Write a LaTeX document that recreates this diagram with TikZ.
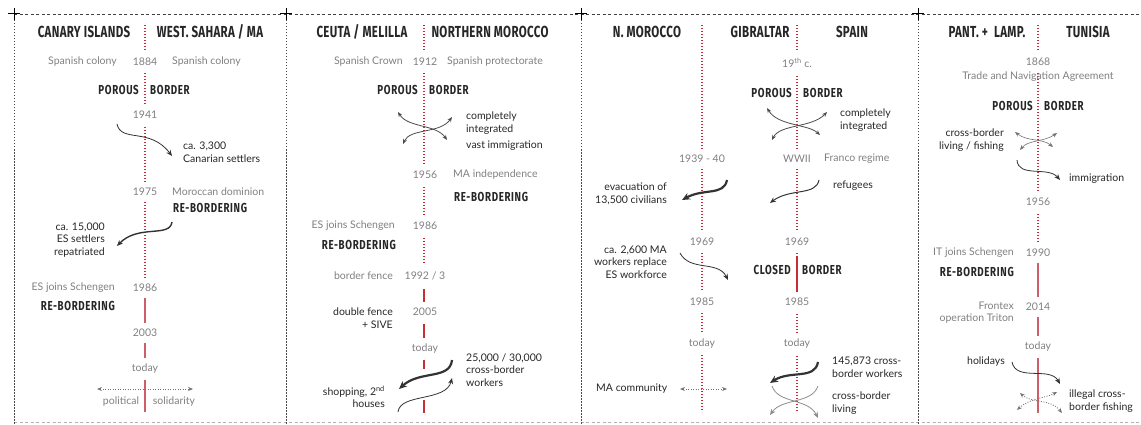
\documentclass[tikz,border=0pt]{standalone}
\usepackage{fontspec}
\setmainfont{Lato}
\newfontfamily\headfont{Fira Sans}[FakeStretch=0.72, LetterSpace=2]
\newfontfamily\tagfont{Fira Sans}[FakeStretch=0.75, LetterSpace=5]
\usetikzlibrary{arrows.meta}

\definecolor{axisred}{RGB}{200,45,55}
\definecolor{axispink}{RGB}{205,95,105}

\tikzset{
  head/.style={font=\headfont\bfseries\fontsize{16}{16}\selectfont, text=black!85, inner sep=1pt},
  tag/.style={font=\tagfont\bfseries\fontsize{13}{13}\selectfont, text=black!85, inner sep=1pt},
  year/.style={font=\fontsize{10.5}{12}\selectfont, text=black!50, fill=white, inner xsep=2pt, inner ysep=6pt},
  note/.style={font=\fontsize{10.5}{12}\selectfont, text=black!50, inner sep=1pt},
  info/.style={font=\fontsize{10.5}{12.5}\selectfont, text=black!85, inner sep=1pt},
  axisdot/.style={draw=axisred, line width=1.3pt, dash pattern=on 1.2pt off 1.8pt},
  axisline/.style={draw=axispink, line width=1.3pt},
  redbar/.style={draw=axisred, line width=2.2pt},
  flow/.style={-{Stealth[length=6pt,width=5pt]}, line width=0.8pt, black!80},
  bigflow/.style={flow, line width=2.2pt, -{Stealth[length=8pt,width=7pt]}},
  twoway/.style={{Stealth[length=5pt,width=4pt]}-{Stealth[length=5pt,width=4pt]}, line width=0.8pt, black!70},
  dotway/.style={twoway, black!55, dash pattern=on 1pt off 1.5pt},
  frame/.style={black!75, line width=0.7pt, dash pattern=on 3pt off 2.5pt},
  sideframe/.style={black!70, line width=0.7pt, dash pattern=on 1.5pt off 1.5pt}
}

\begin{document}
\begin{tikzpicture}[x=1pt,y=-1pt]
\useasboundingbox (0,0) rectangle (1141,425);

% frame
\draw[frame] (14,14) -- (1141,14);
\draw[frame, black!30] (14,422) -- (1141,422);
\draw[sideframe] (14,14) -- (14,425);
\draw[sideframe] (286,14) -- (286,425);
\draw[sideframe] (581,14) -- (581,425);
\draw[sideframe] (918,14) -- (918,425);
\draw[line width=1pt] (8,14) -- (20,14) (14,8) -- (14,20);
\draw[line width=1pt] (280,14) -- (292,14) (286,8) -- (286,20);
\draw[line width=1pt] (575,14) -- (587,14) (581,8) -- (581,20);
\draw[line width=1pt] (912,14) -- (924,14) (918,8) -- (918,20);

% axes
\draw[axisdot] (145,25) -- (145,288);
\draw[axisline] (145,288) -- (145,412);
\draw[axisdot] (424,25) -- (424,264);
\draw[axisline, axisred] (424,289) -- (424,302);
\draw[redbar] (424,324) -- (424,338);
\draw[redbar] (424,360) -- (424,369);
\draw[redbar] (424,400) -- (424,413);
\draw[axisdot] (702,25) -- (702,412);
\draw[axisdot] (797,25) -- (797,257);
\draw[redbar] (797,257) -- (797,293);
\draw[axisdot] (797,293) -- (797,412);
\draw[axisdot] (1038,25) -- (1038,262);
\draw[axisline] (1038,262) -- (1038,413);

%% CANARY ISLANDS / WEST. SAHARA
\node[head] (canary) at (84,32) {CANARY ISLANDS};
\node[head] (wsahara) at (210,32) {WEST. SAHARA / MA};
\node[year] (cy1884) at (145,62) {1884};
\node[note, anchor=east] (ccolonyl) at (118,62) {Spanish colony};
\node[note, anchor=west] (ccolonyr) at (171,62) {Spanish colony};
\node[tag, anchor=east] (cporous) at (140,90) {POROUS};
\node[tag, anchor=west] (cborder) at (149,90) {BORDER};
\node[year] (cy1941) at (145,115) {1941};
\node[info, anchor=west, align=left] (csettlers) at (182,152) {ca. 3,300\\Canarian settlers};
\node[year] (cy1975) at (145,192) {1975};
\node[note, anchor=west] (cdominion) at (171,192) {Moroccan dominion};
\node[tag, anchor=west] (crebord) at (172,208) {RE-BORDERING};
\node[info, anchor=east, align=right] (crepat) at (106,240) {ca. 15,000\\ES settlers\\repatriated};
\node[year] (cy1986) at (145,288) {1986};
\node[note, anchor=east] (cschengen) at (116,288) {ES joins Schengen};
\node[tag, anchor=east] (crebordb) at (116,306) {RE-BORDERING};
\node[year] (cy2003) at (145,333) {2003};
\node[year] (ctoday) at (145,369) {today};
\node[note] (cpolit) at (121,402) {political};
\node[note] (csolid) at (174,402) {solidarity};
\coordinate (cfa) at (117,124);
\coordinate (cfb) at (172,156);
\coordinate (cga) at (172,222);
\coordinate (cgb) at (117,246);
\coordinate (cpl) at (97,389);
\coordinate (cpr) at (193,389);
\draw[flow] (cfa) .. controls (121,143) and (150,127) .. (cfb);
\draw[flow, line width=1.4pt] (cga) .. controls (170,238) and (138,224) .. (cgb);
\draw[dotway] (cpl) -- (cpr);

%% CEUTA / MELILLA / NORTHERN MOROCCO
\node[head] (ceuta) at (362,32) {CEUTA / MELILLA};
\node[head] (nmorocco) at (490,32) {NORTHERN MOROCCO};
\node[year] (my1912) at (425,62) {1912};
\node[note, anchor=east] (mcrown) at (404,62) {Spanish Crown};
\node[note, anchor=west] (mprotect) at (446,62) {Spanish protectorate};
\node[tag, anchor=east] (mporous) at (419,90) {POROUS};
\node[tag, anchor=west] (mborder) at (428,90) {BORDER};
\node[info, anchor=west, align=left] (mintegr) at (465,123) {completely\\integrated};
\node[info, anchor=west] (mimmig) at (465,146) {vast immigration};
\node[year] (my1956) at (425,175) {1956};
\node[note, anchor=west] (mindep) at (452,175) {MA independence};
\node[tag, anchor=west] (mrebord) at (453,197) {RE-BORDERING};
\node[year] (my1986) at (425,226) {1986};
\node[note, anchor=east] (mschengen) at (396,226) {ES joins Schengen};
\node[tag, anchor=east] (mrebordb) at (397,245) {RE-BORDERING};
\node[year] (my1992) at (425,276) {1992 / 3};
\node[note, anchor=east] (mfence) at (394,276) {border fence};
\node[year] (my2005) at (425,312) {2005};
\node[info, anchor=east, align=right] (mdouble) at (394,318) {double fence\\+ SIVE};
\node[year] (mtoday) at (425,349) {today};
\node[info, anchor=west, align=left] (mworkers) at (465,370) {25,000 / 30,000\\cross-border\\workers};
\node[info, anchor=east, align=right] (mshop) at (386,397) {shopping, 2\textsuperscript{nd}\\houses};
\coordinate (mxa) at (398,112);
\coordinate (mxb) at (447,140);
\coordinate (mxc) at (403,144);
\coordinate (mxd) at (452,117);
\coordinate (mwa) at (452,360);
\coordinate (mwb) at (399,389);
\coordinate (msa) at (398,412);
\coordinate (msb) at (452,378);
\draw[twoway] (mxa) .. controls (408,128) and (436,124) .. (mxb);
\draw[twoway] (mxc) .. controls (410,128) and (440,134) .. (mxd);
\draw[bigflow] (mwa) .. controls (450,380) and (420,370) .. (mwb);
\draw[flow] (msa) .. controls (400,393) and (446,402) .. (msb);

%% N. MOROCCO / GIBRALTAR / SPAIN
\node[head] (gmorocco) at (647,32) {N. MOROCCO};
\node[head] (gibraltar) at (760,32) {GIBRALTAR};
\node[head] (gspain) at (852,32) {SPAIN};
\node[year] (gy19) at (797,63) {19\textsuperscript{th} c.};
\node[tag, anchor=east] (gporous) at (793,93) {POROUS};
\node[tag, anchor=west] (gborder) at (802,93) {BORDER};
\node[info, anchor=west, align=left] (gintegr) at (839,120) {completely\\integrated};
\node[year] (gy1939) at (702,159) {1939 - 40};
\node[year] (gwwii) at (797,159) {WWII};
\node[note, anchor=west] (gfranco) at (823,159) {Franco regime};
\node[info, anchor=east, align=right] (gevac) at (668,194) {evacuation of\\13,500 civilians};
\node[info, anchor=west] (grefug) at (832,186) {refugees};
\node[year] (gy1969a) at (702,242) {1969};
\node[year] (gy1969b) at (797,242) {1969};
\node[info, anchor=east, align=right] (gworkers) at (668,262) {ca. 2,600 MA\\workers replace\\ES workforce};
\node[tag, anchor=east] (gclosed) at (792,270) {CLOSED};
\node[tag, anchor=west] (gborderb) at (801,270) {BORDER};
\node[year] (gy1985a) at (702,302) {1985};
\node[year] (gy1985b) at (797,302) {1985};
\node[year] (gtodaya) at (702,344) {today};
\node[year] (gtodayb) at (797,344) {today};
\node[info, anchor=west] (gcommun) at (595,389) {MA community};
\node[info, anchor=west, align=left] (gcross) at (831,367) {145,873 cross-\\border workers};
\node[info, anchor=west, align=left] (gliving) at (831,403) {cross-border\\living};
\coordinate (gxa) at (767,108);
\coordinate (gxb) at (820,135);
\coordinate (gxc) at (772,140);
\coordinate (gxd) at (827,112);
\coordinate (gea) at (727,180);
\coordinate (geb) at (682,200);
\coordinate (gra) at (819,180);
\coordinate (grb) at (770,203);
\coordinate (gwa) at (680,253);
\coordinate (gwb) at (728,280);
\coordinate (gca) at (680,389);
\coordinate (gcb) at (727,389);
\coordinate (gba) at (818,362);
\coordinate (gbb) at (770,383);
\coordinate (gla) at (772,386);
\coordinate (glb) at (818,418);
\coordinate (glc) at (818,386);
\coordinate (gld) at (770,415);
\draw[twoway] (gxa) .. controls (778,126) and (808,124) .. (gxb);
\draw[twoway] (gxc) .. controls (780,124) and (812,128) .. (gxd);
\draw[bigflow] (gea) .. controls (724,196) and (704,188) .. (geb);
\draw[flow, line width=1pt] (gra) .. controls (816,196) and (790,188) .. (grb);
\draw[flow] (gwa) .. controls (690,272) and (718,260) .. (gwb);
\draw[dotway] (gca) -- (gcb);
\draw[bigflow] (gba) .. controls (815,380) and (790,370) .. (gbb);
\draw[flow, black!45] (gla) .. controls (778,404) and (808,398) .. (glb);
\draw[flow, black!45] (glc) .. controls (812,404) and (782,398) .. (gld);

%% PANTELLERIA + LAMPEDUSA / TUNISIA
\node[head] (tpant) at (987,32) {PANT. + \ LAMP.};
\node[head] (ttunisia) at (1088,32) {TUNISIA};
\node[year] (ty1868) at (1038,62) {1868};
\node[note] (ttrade) at (1038,77) {Trade and Navigation Agreement};
\node[tag, anchor=east] (tporous) at (1034,106) {POROUS};
\node[tag, anchor=west] (tborder) at (1043,106) {BORDER};
\node[info, anchor=east, align=right] (tliving) at (1005,140) {cross-border\\living / fishing};
\node[info, anchor=west] (timmig) at (1068,179) {immigration};
\node[year] (ty1956) at (1038,202) {1956};
\node[year] (ty1990) at (1038,253) {1990};
\node[note, anchor=east] (tschengen) at (1015,253) {IT joins Schengen};
\node[tag, anchor=east] (trebord) at (1015,272) {RE-BORDERING};
\node[year] (ty2014) at (1038,307) {2014};
\node[note, anchor=east, align=right] (tfrontex) at (1015,313) {Frontex\\operation Triton};
\node[year] (ttoday) at (1038,347) {today};
\node[info, anchor=east] (tholid) at (1006,362) {holidays};
\node[info, anchor=west, align=left] (tillegal) at (1068,401) {illegal cross-\\border fishing};
\coordinate (txa) at (1015,132);
\coordinate (txb) at (1053,147);
\coordinate (txc) at (1020,150);
\coordinate (txd) at (1057,133);
\coordinate (tia) at (1017,160);
\coordinate (tib) at (1060,180);
\coordinate (tha) at (1012,362);
\coordinate (thb) at (1060,384);
\coordinate (tfa) at (1020,393);
\coordinate (tfb) at (1062,413);
\coordinate (tfc) at (1017,410);
\coordinate (tfd) at (1057,392);
\draw[twoway, black!55, line width=0.6pt] (txa) .. controls (1028,142) and (1042,138) .. (txb);
\draw[twoway, black!55, line width=0.6pt] (txc) .. controls (1028,140) and (1044,142) .. (txd);
\draw[flow] (tia) .. controls (1018,178) and (1048,166) .. (tib);
\draw[flow] (tha) .. controls (1016,382) and (1050,366) .. (thb);
\draw[dotway] (tfa) .. controls (1032,404) and (1050,398) .. (tfb);
\draw[dotway] (tfc) .. controls (1030,398) and (1046,398) .. (tfd);
\end{tikzpicture}
\end{document}
